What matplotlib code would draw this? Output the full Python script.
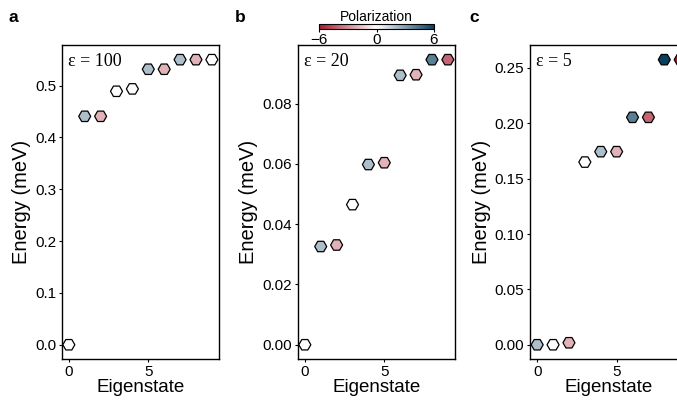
import matplotlib
matplotlib.use("Agg")
import matplotlib.pyplot as plt
from matplotlib.colors import LinearSegmentedColormap, Normalize
from matplotlib.cm import ScalarMappable

plt.rcParams['font.family'] = ['Liberation Sans', 'DejaVu Sans']

# data
states = list(range(10))

energy_a = [0.0, 0.4407, 0.4407, 0.489, 0.4936, 0.5315, 0.5315, 0.550, 0.550, 0.550]
pol_a = [0, 2, -2, 0, 0, 2, -2, 2, -2, 0]

energy_b = [0.0, 0.0326, 0.0331, 0.0465, 0.0598, 0.0604, 0.0894, 0.0896, 0.0946, 0.0946]
pol_b = [0, 2, -2, 0, 2, -2, 2, -2, 4, -4]

energy_c = [0.0, 0.0, 0.0018, 0.165, 0.1744, 0.1744, 0.2054, 0.2054, 0.2575, 0.2575]
pol_c = [2, 0, -2, 0, 2, -2, 4, -4, 6, -6]

eps_labels = ['ε = 100', 'ε = 20', 'ε = 5']
panel_labels = ['a', 'b', 'c']
yticks = [[0.0, 0.1, 0.2, 0.3, 0.4, 0.5],
          [0.00, 0.02, 0.04, 0.06, 0.08],
          [0.00, 0.05, 0.10, 0.15, 0.20, 0.25]]
yfmt = ['{:.1f}', '{:.2f}', '{:.2f}']

cmap = LinearSegmentedColormap.from_list('pol', ['#a8182e', '#ffffff', '#08405f'])
norm = Normalize(vmin=-6, vmax=6)

fig = plt.figure(figsize=(6.77, 4.0), dpi=100)

lefts = [0.0911, 0.4397, 0.7829]
panel_x = [0.012, 0.347, 0.694]
energies = [energy_a, energy_b, energy_c]
pols = [pol_a, pol_b, pol_c]

for i in range(3):
    ax = fig.add_axes([lefts[i], 0.1025, 0.2324, 0.784])
    ax.scatter(states, energies[i], c=pols[i], cmap=cmap, norm=norm,
               marker='H', s=75, edgecolors='black', linewidths=0.9, zorder=3)
    ax.set_xticks([0, 5])
    ax.set_yticks(yticks[i])
    ax.set_yticklabels([yfmt[i].format(v) for v in yticks[i]])
    ax.tick_params(labelsize=11, length=2, width=0.8, pad=2)
    ax.set_xlabel('Eigenstate', fontsize=13.5, labelpad=0)
    ax.set_ylabel('Energy (meV)', fontsize=14.5, labelpad=3)
    for sp in ax.spines.values():
        sp.set_linewidth(1.0)
    ax.text(0.04, 0.975, eps_labels[i], transform=ax.transAxes,
            ha='left', va='top', fontsize=13, family='Liberation Serif')
    fig.text(panel_x[i], 0.975, panel_labels[i], fontsize=12.5,
             fontweight='bold', ha='left', va='top')

# colorbar on top of panel b
cax = fig.add_axes([319 / 677, 1 - 29 / 400, 115 / 677, 5 / 400])
cb = fig.colorbar(ScalarMappable(norm=norm, cmap=cmap), cax=cax,
                  orientation='horizontal', ticks=[-6, 0, 6])
cb.outline.set_linewidth(0.8)
cax.tick_params(labelsize=11, length=2, pad=1)
cax.xaxis.set_label_position('top')
cax.set_xlabel('Polarization', fontsize=10, labelpad=2)

fig.savefig('out.png', dpi=100)
